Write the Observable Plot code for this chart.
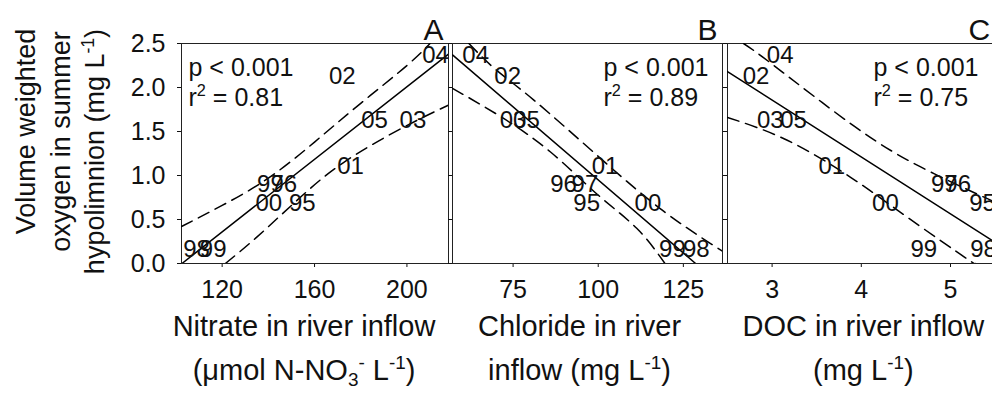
<!DOCTYPE html>
<html>
<head>
<meta charset="utf-8">
<script src="https://cdn.jsdelivr.net/npm/d3@7"></script>
<script src="https://cdn.jsdelivr.net/npm/@observablehq/plot@0.6"></script>
<style>
html, body { margin: 0; padding: 0; background: #fff; overflow: hidden; }
#chart { position: relative; width: 992px; height: 395px; overflow: hidden; background: #fff; }
#chart svg { position: absolute; left: 0; top: 0; max-width: none; background: none; overflow: visible;
  font-family: "Liberation Sans", Arial, Helvetica, sans-serif; font-size: 25px; color: #111; }
</style>
</head>
<body>
<div id="chart"></div>
<script>
// ---- data ----
const years    = ["95", "96", "97", "98", "99", "00", "01", "02", "03", "04", "05"];
const oxygen   = [0.68, 0.90, 0.90, 0.16, 0.16, 0.68, 1.10, 2.13, 1.63, 2.37, 1.63];
const nitrate  = [154.7, 146.7, 140.9, 108.9, 116.1, 140.2, 175.6, 172.0, 202.6, 212.4, 186.0];
const chloride = [96.6, 89.8, 96.1, 128.8, 121.8, 114.6, 102.0, 73.4, 75.0, 64.0, 78.9];
const doc      = [5.36, 5.08, 4.93, 5.37, 4.70, 4.27, 3.67, 2.82, 2.98, 3.09, 3.24];

const yTicks = [0, 0.5, 1.0, 1.5, 2.0, 2.5];
const nitrateTicks = [120, 160, 200];
const chlorideTicks = [75, 100, 125];
const docTicks = [3, 4, 5];

// regression lines and 95% bands
const nitrateFit   = [[102.6, 0.0], [218.0, 2.38]];
const nitrateUpper = [[102.4, 0.42], [120, 0.66], [140, 0.97], [160, 1.38], [180, 1.82], [200, 2.25], [210, 2.5]];
const nitrateLower = [[121.4, 0.0], [135, 0.30], [152.5, 0.72], [172.7, 1.15], [198.7, 1.55], [218, 1.80]];

const chlorideFit   = [[57.2, 2.37], [128.6, 0.0]];
const chlorideUpper = [[62, 2.5], [70, 2.2], [81, 1.86], [100.5, 1.2], [119, 0.6], [136.5, 0.14]];
const chlorideLower = [[57.2, 1.99], [71.3, 1.67], [85.9, 1.27], [99.6, 0.79], [111.3, 0.40], [119.6, 0.0]];

const docFit   = [[2.5, 2.18], [5.5, 0.24]];
const docUpper = [[2.68, 2.5], [3.02, 2.25], [3.92, 1.56], [4.66, 1.10], [5.34, 0.77], [5.5, 0.70]];
const docLower = [[2.5, 1.66], [3.17, 1.40], [3.88, 0.98], [4.51, 0.53], [5.19, 0.05], [5.28, 0.0]];

const yTitle = ["Volume weighted", "oxygen in summer", "hypolimnion (mg L^{-1})"];

// ---- layout ----
const W = 1000, H = 395, TOP = 43, BOTTOM = 263;
const INK = "#000";

function panel(cfg) {
  const marks = [
    Plot.frame({stroke: "#222", strokeWidth: 1}),
    Plot.line(cfg.upper, {x: d => d[0], y: d => d[1], curve: "natural", stroke: INK, strokeWidth: 1.5, strokeDasharray: "12,7", clip: true}),
    Plot.line(cfg.lower, {x: d => d[0], y: d => d[1], curve: "natural", stroke: INK, strokeWidth: 1.5, strokeDasharray: "12,7", clip: true}),
    Plot.line(cfg.fit, {x: d => d[0], y: d => d[1], stroke: INK, strokeWidth: 1.5, clip: true}),
    Plot.text(years, {x: (d, i) => cfg.xs[i], y: (d, i) => oxygen[i], text: d => d, fontSize: 24, fill: "#111"}),
    Plot.text([cfg.letter], {text: d => d, frameAnchor: "top-right", textAnchor: "end", lineAnchor: "bottom", dx: -5, dy: -4, fontSize: 30, fill: "#111"}),
    Plot.text(["p < 0.001"], {text: d => d, frameAnchor: "top-left", textAnchor: "start", lineAnchor: "bottom", dx: cfg.statDx, dy: 32, fontSize: 25, fill: "#111"}),
    Plot.text(["r^{2} = " + cfg.r2], {text: d => d, frameAnchor: "top-left", textAnchor: "start", lineAnchor: "bottom", dx: cfg.statDx, dy: 62, fontSize: 25, fill: "#111"}),
    Plot.text([cfg.xTitle[0]], {text: d => d, frameAnchor: "bottom", lineAnchor: "middle", dx: cfg.titleDx, dy: 63, fontSize: 29, fill: "#111"}),
    Plot.text([cfg.xTitle[1]], {text: d => d, frameAnchor: "bottom", lineAnchor: "middle", dx: cfg.titleDx, dy: 107, fontSize: 29, fill: "#111"})
  ];
  if (cfg.yTitle) {
    const pos = [[-155, -22], [-120, -12], [-86, -2]];
    cfg.yTitle.forEach((t, k) => {
      marks.push(Plot.text([t], {text: d => d, frameAnchor: "left", rotate: -90, textAnchor: "middle", lineAnchor: "middle", dx: pos[k][0], dy: pos[k][1], fontSize: 27, fill: "#111"}));
    });
  }
  return Plot.plot({
    width: W, height: H,
    marginLeft: cfg.left, marginRight: W - cfg.right, marginTop: TOP, marginBottom: H - BOTTOM,
    style: {fontFamily: "'Liberation Sans', Arial, sans-serif", fontSize: "25px", color: "#111", background: "none", maxWidth: "none", overflow: "visible"},
    x: {domain: cfg.domain, ticks: cfg.ticks, tickSize: 4, tickPadding: 13, label: null, tickFormat: d => String(d)},
    y: {domain: [0, 2.5], ticks: yTicks, tickSize: 4, tickPadding: 12, label: null,
        tickFormat: cfg.yLabels ? (d => d.toFixed(1)) : (() => "")},
    marks
  });
}

// converts ^{..} / _{..} markers into real super/subscript tspans
function richText(svg) {
  svg.querySelectorAll("text").forEach(t => {
    const s = t.textContent;
    if (!/[\^_]\{/.test(s)) return;
    const S = parseFloat(getComputedStyle(t).fontSize) || 25;
    t.textContent = "";
    const re = /([\^_])\{([^}]*)\}/g;
    let last = 0, m, cur = 0;
    const add = (str, kind) => {
      if (!str) return;
      const ts = document.createElementNS("http://www.w3.org/2000/svg", "tspan");
      const target = kind === "^" ? -0.38 * S : kind === "_" ? 0.22 * S : 0;
      if (target !== cur) ts.setAttribute("dy", (target - cur).toFixed(2));
      cur = target;
      if (kind) ts.setAttribute("font-size", (0.65 * S).toFixed(1));
      ts.textContent = str;
      t.appendChild(ts);
    };
    while ((m = re.exec(s))) {
      add(s.slice(last, m.index), null);
      add(m[2], m[1]);
      last = re.lastIndex;
    }
    add(s.slice(last), null);
  });
}

const chart = document.getElementById("chart");
const panels = [
  panel({left: 181, right: 448, domain: [102.4, 218], ticks: nitrateTicks, xs: nitrate,
         fit: nitrateFit, upper: nitrateUpper, lower: nitrateLower, letter: "A", statDx: 7, r2: "0.81",
         xTitle: ["Nitrate in river inflow", "(μmol N-NO_{3}^{-} L^{-1})"], titleDx: -11, yLabels: true, yTitle}),
  panel({left: 452, right: 722, domain: [57.2, 136.5], ticks: chlorideTicks, xs: chloride,
         fit: chlorideFit, upper: chlorideUpper, lower: chlorideLower, letter: "B", statDx: 151, r2: "0.89",
         xTitle: ["Chloride in river", "inflow (mg L^{-1})"], titleDx: -8, yLabels: false}),
  panel({left: 727, right: 994.6, domain: [2.5, 5.5], ticks: docTicks, xs: doc,
         fit: docFit, upper: docUpper, lower: docLower, letter: "C", statDx: 146, r2: "0.75",
         xTitle: ["DOC in river inflow", "(mg L^{-1})"], titleDx: 2, yLabels: false})
];
panels.forEach(p => { chart.appendChild(p); richText(p); });
</script>
</body>
</html>
